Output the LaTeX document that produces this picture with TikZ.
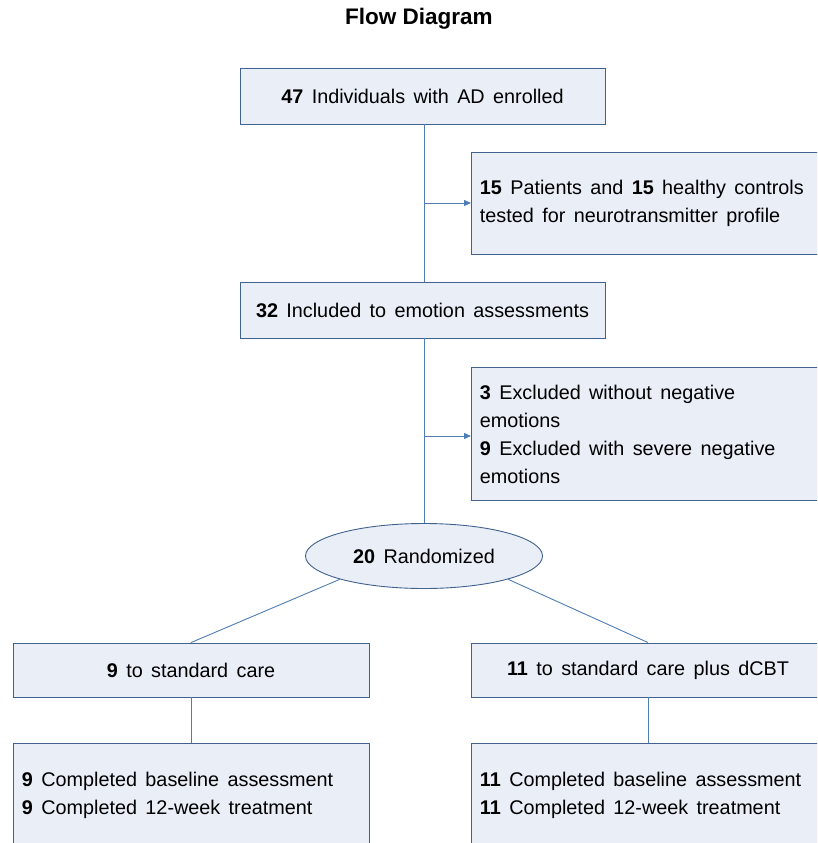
\documentclass[tikz,border=0pt]{standalone}
\usepackage{fontspec}
\setmainfont{Liberation Sans}
\usetikzlibrary{arrows.meta,shapes.geometric}
\definecolor{boxfill}{HTML}{E9EEF7}
\definecolor{boxline}{HTML}{41618F}
\definecolor{conn}{HTML}{4F7DB5}
\newcommand{\boxfont}{\fontsize{19.8}{28}\selectfont}
\tikzset{
  box/.style={draw=boxline, fill=boxfill, line width=0.9pt, rectangle, inner sep=0pt,
    font=\boxfont, text=black,
    execute at begin node={\spaceskip=8.4pt plus 1pt minus 1pt\relax}},
  lbox/.style={box, anchor=north west, align=left, inner xsep=8.5pt},
  conline/.style={draw=conn, line width=0.9pt},
  arr/.style={conline, -{Triangle[length=7pt,width=6pt]}},
}
\begin{document}
\begin{tikzpicture}[x=1pt,y=-1pt]
\useasboundingbox (0,0) rectangle (817,843);
\begin{scope}
\clip (0,0) rectangle (817,843);
\node[font=\fontsize{22.5}{26}\selectfont\bfseries] (title) at (419,19) {Flow Diagram};

\node[box, minimum width=365pt, minimum height=56pt] (b1) at (422.5,96) {\textbf{47} Individuals with AD enrolled};
\node[box, minimum width=365pt, minimum height=56pt] (b2) at (422.5,310) {\textbf{32} Included to emotion assessments};

\node[lbox, text width=337pt, minimum height=102pt] (r1) at (471,152)
  {\textbf{15} Patients and \textbf{15} healthy controls\\tested for neurotransmitter profile};
\node[lbox, text width=337pt, minimum height=133pt] (r2) at (471,367)
  {\textbf{3} Excluded without negative\\emotions\\\textbf{9} Excluded with severe negative\\emotions};

\node[box, ellipse, minimum width=237pt, minimum height=65pt] (rand) at (424,556) {\textbf{20} Randomized};

\node[box, minimum width=356pt, minimum height=54pt] (l1) at (191,670) {\textbf{9} to standard care};
\node[box, minimum width=354pt, minimum height=54pt] (r3) at (648,670) {\textbf{11} to standard care plus dCBT};

\node[lbox, text width=339pt, minimum height=103pt] (l2) at (13,743)
  {\textbf{9} Completed baseline assessment\\\textbf{9} Completed 12-week treatment};
\node[lbox, text width=337pt, minimum height=103pt] (r4) at (471,743)
  {\textbf{11} Completed baseline assessment\\\textbf{11} Completed 12-week treatment};

\draw[conline] (b1.south -| rand.north) -- (b2.north -| rand.north);
\draw[conline] (b2.south -| rand.north) -- (rand.north);
\coordinate (j1) at (424,203);
\coordinate (j2) at (424,436);
\draw[arr] (j1) -- (j1 -| r1.west);
\draw[arr] (j2) -- (j2 -| r2.west);
\draw[conline] (rand.south west) -- (l1.north);
\draw[conline] (rand.south east) -- (r3.north);
\draw[conline] (l1.south) -- (l2.north -| l1.south);
\draw[conline] (r3.south) -- (r4.north -| r3.south);
\end{scope}
\end{tikzpicture}
\end{document}
